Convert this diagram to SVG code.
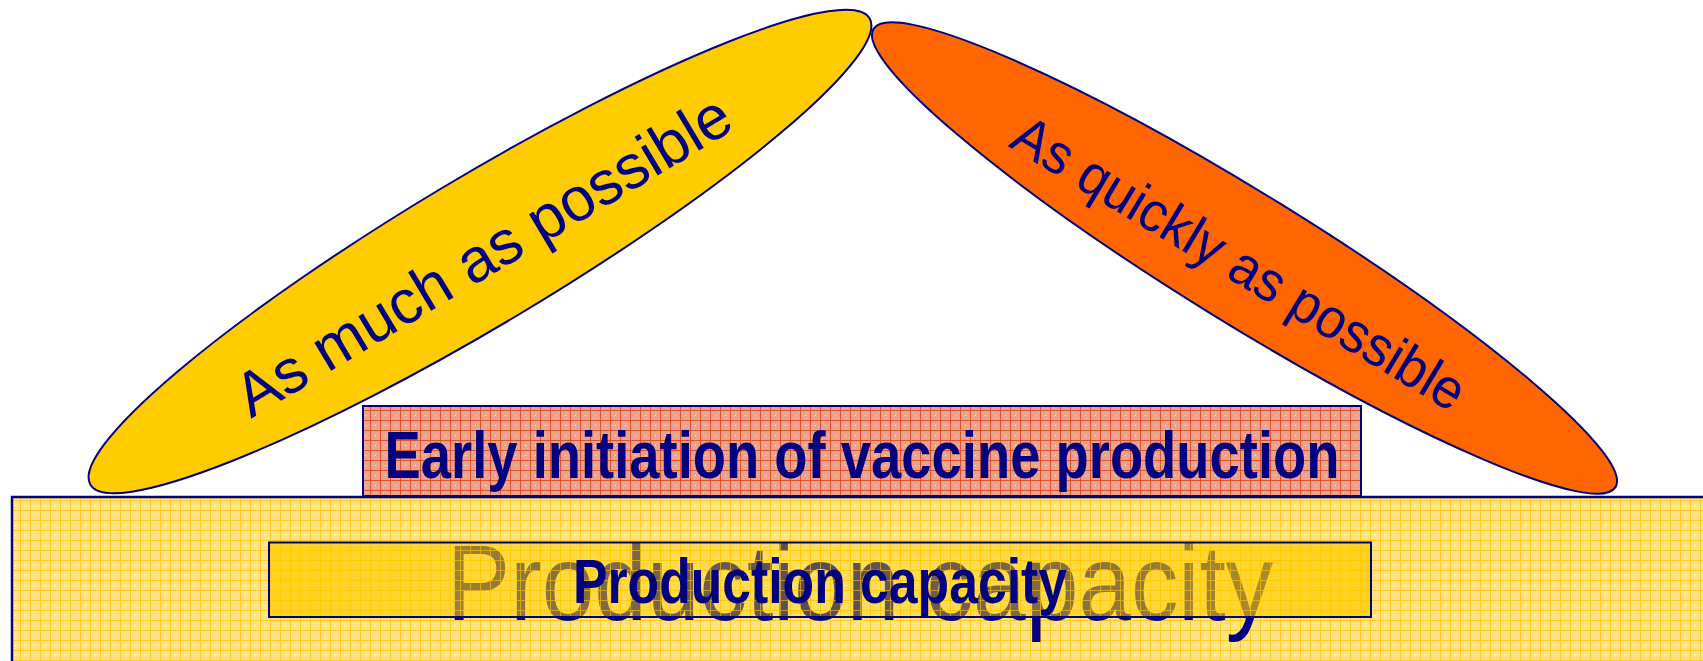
<svg xmlns="http://www.w3.org/2000/svg" width="1703" height="661" viewBox="0 0 1703 661">
<style>
.edge{stroke:#000080;stroke-width:2}
.lbl{fill:#000080;font-family:"Liberation Sans Narrow","Liberation Sans",Arial,sans-serif}
.bold{font-weight:bold}
</style>
<defs>
<pattern id="gridY" width="10" height="10" patternUnits="userSpaceOnUse">
<rect width="10" height="10" fill="#FFE384"/>
<path d="M0 0.5H10M0.5 0V10" stroke="#FFCC22" stroke-width="1"/>
<rect x="5" y="5" width="1" height="1" fill="#FFFFFF" opacity="0.8"/>
</pattern>
<pattern id="gridP" width="10" height="10" patternUnits="userSpaceOnUse">
<rect width="10" height="10" fill="#EAA48E"/>
<path d="M0 0.5H10M0.5 0V10" stroke="#E0522C" stroke-width="1"/>
<rect x="5" y="5" width="1" height="1" fill="#FFFFFF" opacity="0.8"/>
</pattern>
<pattern id="gridI" width="10" height="10" patternUnits="userSpaceOnUse">
<path d="M0 0.5H10M0.5 0V10" stroke="#FFCC00" stroke-width="1" opacity="0.6"/>
</pattern>
<linearGradient id="innerG" x1="0" y1="0" x2="1" y2="0">
<stop offset="0" stop-color="#FFCC00" stop-opacity="0.75"/>
<stop offset="0.5" stop-color="#FFD21A" stop-opacity="0.35"/>
<stop offset="1" stop-color="#FFCC00" stop-opacity="0.75"/>
</linearGradient>
</defs>

<g id="much">
<ellipse cx="480" cy="251.5" rx="454" ry="74" transform="rotate(-30.9 480 251.5)" fill="#FFCC00" class="edge"/>
<text class="lbl" font-size="62" text-anchor="middle" x="0" y="25" textLength="566" lengthAdjust="spacingAndGlyphs" transform="translate(481 252) rotate(-30.9)">As much as possible</text>
</g>

<g id="quickly">
<ellipse cx="1244.5" cy="258" rx="436" ry="65" transform="rotate(31.7 1244.5 258)" fill="#FF6600" class="edge"/>
<text class="lbl" font-size="56" text-anchor="middle" x="0" y="26" textLength="518" lengthAdjust="spacingAndGlyphs" transform="translate(1243 257) rotate(31)">As quickly as possible</text>
</g>

<g id="early">
<rect x="363" y="406" width="998" height="90" fill="url(#gridP)" class="edge"/>
<text class="lbl bold" font-size="67" text-anchor="middle" x="862" y="478" textLength="955" lengthAdjust="spacingAndGlyphs">Early initiation of vaccine production</text>
</g>

<g id="capacity">
<rect x="12" y="497" width="1700" height="180" fill="url(#gridY)" stroke="#000080" stroke-width="2.5"/>
<text class="lbl" font-size="107" text-anchor="middle" x="860" y="620" textLength="826" lengthAdjust="spacingAndGlyphs">Production capacity</text>
</g>

<g id="capacity-inner">
<rect x="269" y="542.5" width="1102" height="74.5" fill="url(#innerG)"/>
<rect x="269" y="542.5" width="1102" height="74.5" fill="url(#gridI)" class="edge"/>
<text class="lbl bold" font-size="63" text-anchor="middle" x="820" y="603" textLength="494" lengthAdjust="spacingAndGlyphs">Production capacity</text>
</g>

<g id="connectors"/>
</svg>
